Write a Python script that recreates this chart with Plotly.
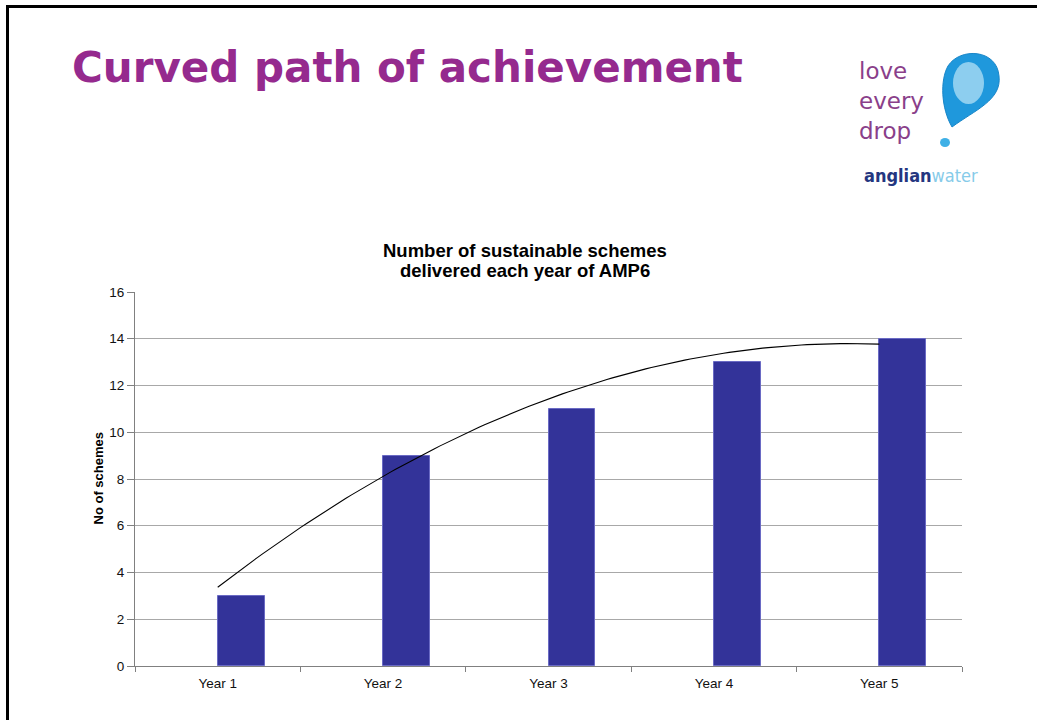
import numpy as np
import plotly.graph_objects as go

# ---- data ----
categories = ["Year 1", "Year 2", "Year 3", "Year 4", "Year 5"]
positions = [1, 2, 3, 4, 5]
schemes = [3, 9, 11, 13, 14]
y_ticks = [0, 2, 4, 6, 8, 10, 12, 14, 16]

slide_title = "Curved path of achievement"
chart_title_1 = "Number of sustainable schemes"
chart_title_2 = "delivered each year of AMP6"
y_title = "No of schemes"
logo_words = ["love", "every", "drop"]

# ---- geometry ----
W, H = 1037, 720
PL, PR, PT, PB = 135, 962, 292, 666


def px(x):
    return (x - PL) / (PR - PL)


def py(y):
    return (PB - y) / (PB - PT)


# polynomial (order 2) trendline fitted to the data, as in Excel
coef = np.polyfit(positions, schemes, 2)
tx = np.linspace(positions[0], positions[-1], 120)
ty = np.polyval(coef, tx)

fig = go.Figure()
fig.add_trace(go.Bar(
    x=positions, y=schemes, width=0.284, offset=0,
    marker=dict(color="#333399", line=dict(color="#6a6ac4", width=1)),
    showlegend=False, hoverinfo="y",
))
fig.add_trace(go.Scatter(
    x=tx, y=ty, mode="lines", line=dict(color="#000000", width=1.1),
    showlegend=False, hoverinfo="skip",
))

fig.update_layout(
    width=W, height=H,
    margin=dict(l=PL, r=W - PR, t=PT, b=H - PB, pad=0),
    paper_bgcolor="white", plot_bgcolor="white",
    font=dict(family="Liberation Sans, Arial, sans-serif", size=13, color="#111111"),
    bargap=0,
)
fig.update_xaxes(
    range=[0.5, 5.5], tickvals=positions, ticktext=categories,
    tickfont=dict(size=13.5, color="#111111"),
    showgrid=False, zeroline=False, showline=True, linecolor="#808080", linewidth=1,
    ticks="", ticklabelstandoff=5,
    minor=dict(tickvals=[0.5, 1.5, 2.5, 3.5, 4.5, 5.5], ticks="outside", ticklen=5,
               tickcolor="#808080", showgrid=False),
    fixedrange=True,
)
fig.update_yaxes(
    range=[0, 16], tickvals=y_ticks,
    tickfont=dict(size=13.5, color="#111111"),
    showgrid=True, gridcolor="#a8a8a8", gridwidth=1,
    zeroline=False, showline=True, linecolor="#808080", linewidth=1,
    ticks="outside", ticklen=7, tickcolor="#808080",
    fixedrange=True,
)

ann = []
# slide title
ann.append(dict(x=px(70), y=py(67), xref="paper", yref="paper", xanchor="left", yanchor="middle",
                text="<b>" + slide_title + "</b>", showarrow=False,
                font=dict(family="DejaVu Sans, Verdana, sans-serif", size=42, color="#952a8e")))
# chart title (two lines)
ann.append(dict(x=px(525), y=py(250), xref="paper", yref="paper", xanchor="center", yanchor="middle",
                text="<b>" + chart_title_1 + "</b>", showarrow=False,
                font=dict(family="Liberation Sans, Arial, sans-serif", size=18.5, color="#000000")))
ann.append(dict(x=px(525), y=py(270), xref="paper", yref="paper", xanchor="center", yanchor="middle",
                text="<b>" + chart_title_2 + "</b>", showarrow=False,
                font=dict(family="Liberation Sans, Arial, sans-serif", size=18.5, color="#000000")))
# y axis title
ann.append(dict(x=px(97.5), y=py(479), xref="paper", yref="paper", xanchor="center", yanchor="middle",
                text="<b>" + y_title + "</b>", textangle=-90, showarrow=False,
                font=dict(family="Liberation Sans, Arial, sans-serif", size=13, color="#000000")))

# logo text
ann.append(dict(x=px(857), y=py(101), xref="paper", yref="paper", xanchor="left", yanchor="middle",
                text="<br>".join(logo_words), showarrow=False, align="left",
                font=dict(family="DejaVu Sans, sans-serif", size=23, color="#8a3f8a")))
ann.append(dict(x=px(921), y=py(175), xref="paper", yref="paper", xanchor="center", yanchor="middle",
                text="<b><span style='color:#24367f'>anglian</span></b><span style='color:#86cbe9'>water</span>",
                showarrow=False, font=dict(family="DejaVu Sans Condensed, DejaVu Sans, sans-serif", size=18)))
fig.update_layout(annotations=ann)


def path_from(points):
    s = "M {:.5f} {:.5f} ".format(px(points[0][0]), py(points[0][1]))
    i = 1
    while i + 2 < len(points) + 1:
        (a, b), (c, d), (e, f) = points[i], points[i + 1], points[i + 2]
        s += "C {:.5f} {:.5f} {:.5f} {:.5f} {:.5f} {:.5f} ".format(px(a), py(b), px(c), py(d), px(e), py(f))
        i += 3
    return s + "Z"


balloon = [(952, 127),
           (941, 108), (940, 80), (948, 66),
           (960, 47), (997, 49), (999, 76),
           (1002, 100), (975, 110), (952, 127)]
shapes = [
    # slide border
    dict(type="line", xref="paper", yref="paper", x0=px(7.5), x1=px(7.5), y0=py(5), y1=py(722),
         line=dict(color="#000000", width=3)),
    dict(type="line", xref="paper", yref="paper", x0=px(6), x1=px(1040), y0=py(6.5), y1=py(6.5),
         line=dict(color="#000000", width=3)),
    # balloon drop
    dict(type="path", xref="paper", yref="paper", path=path_from(balloon),
         fillcolor="#1f98dc", line=dict(color="#1a86c8", width=1)),
    dict(type="circle", xref="paper", yref="paper", x0=px(953), x1=px(984), y0=py(62), y1=py(104),
         fillcolor="#a9dcf4", line=dict(width=0), opacity=0.8),
    dict(type="circle", xref="paper", yref="paper", x0=px(940), x1=px(950), y0=py(138), y1=py(147),
         fillcolor="#3fb0e6", line=dict(width=0)),
]
fig.update_layout(shapes=shapes)

fig.write_html("out.html", config={"displayModeBar": False},
               post_script="document.body.style.margin='0';")
